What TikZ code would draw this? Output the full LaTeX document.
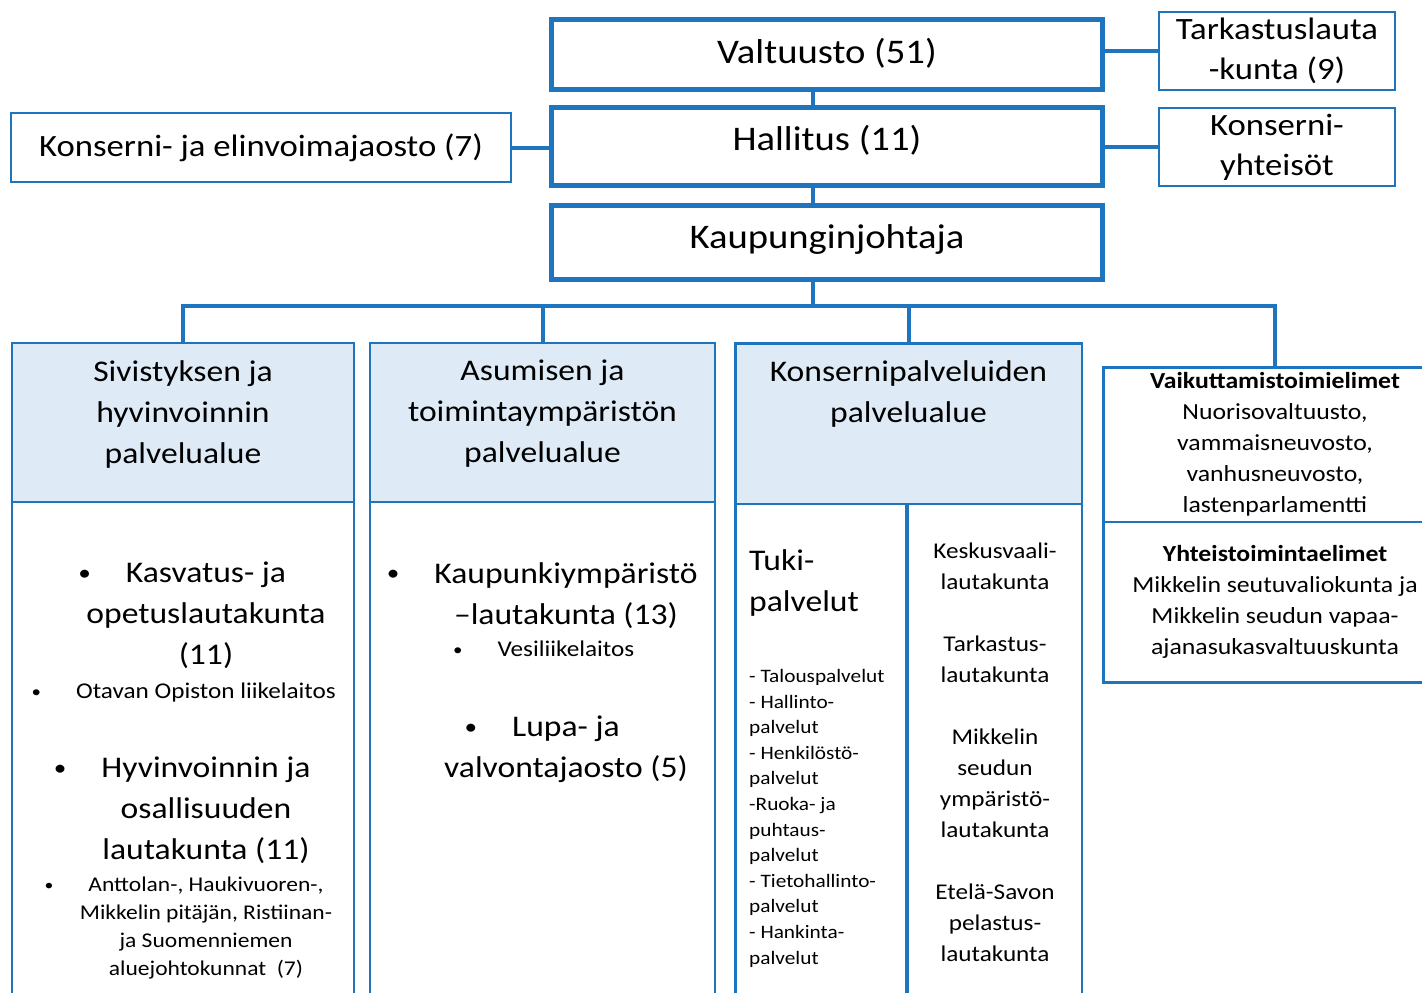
\documentclass[tikz,border=0pt]{standalone}
\usepackage{fontspec}
\usepackage{graphicx}
\setmainfont{Carlito}[FakeStretch=1.12]
\usetikzlibrary{positioning}
\definecolor{orgblue}{RGB}{31,117,189}
\definecolor{areafill}{RGB}{222,235,247}
\newcommand{\bul}[1]{\llap{\raisebox{0.08em}{\scalebox{0.75}{\textbullet}}\hspace{#1}}}

\begin{document}
\begin{tikzpicture}[x=1pt, y=-1pt,
    link/.style={orgblue, line width=4pt},
    topbox/.style={draw=orgblue, line width=5pt, minimum width=551pt, text height=24pt, text depth=12pt, font=\fontsize{34.5}{40}\selectfont},
    sidebox/.style={draw=orgblue, line width=2pt, align=center, minimum height=78pt, font=\fontsize{31}{40}\selectfont},
    areahead/.style={draw=orgblue, line width=2.5pt, outer sep=0pt, fill=areafill, minimum width=342pt, minimum height=159pt},
    areabody/.style={draw=orgblue, line width=2.5pt, outer sep=0pt, minimum width=342pt, minimum height=510pt},
    vaikbox/.style={draw=orgblue, line width=2.5pt, outer sep=0pt, align=center, minimum width=343.5pt, font=\fontsize{23}{31}\selectfont},
    big/.style={align=center, inner sep=0pt, anchor=north, font=\fontsize{30}{41}\selectfont},
    small/.style={align=center, inner sep=0pt, anchor=north, font=\fontsize{21}{28}\selectfont},
    list/.style={align=left, inner sep=0pt, anchor=north west, font=\fontsize{19}{25.6}\selectfont},
    mid/.style={align=center, inner sep=0pt, anchor=north, font=\fontsize{22.5}{31}\selectfont}]
  \useasboundingbox (0,0) rectangle (1422,993);
  \clip (0,0) rectangle (1422,993);

  % top of the organisation
  \node[topbox, minimum height=70pt, text height=26pt, text depth=9pt] (valt) at (827,54.5) {Valtuusto (51)};
  \node[topbox, minimum height=78pt, text depth=16pt] (hall) at (827,146.5) {Hallitus (11)};
  \node[topbox, minimum height=74pt] (kjoht) at (827,242.5) {Kaupunginjohtaja};
  \node[sidebox, minimum width=236pt] (tark) at (1277,51) {Tarkastuslauta\\-kunta (9)};
  \node[sidebox, minimum width=236pt] (kyht) at (1277,147) {Konserni-\\yhteisöt};
  \node[sidebox, minimum width=500pt, minimum height=69pt] (kej) at (261,147.5) {Konserni- ja elinvoimajaosto (7)};

  \draw[link] (tark.west -| valt.east) -- (tark.west);
  \draw[link] (kyht.west -| hall.east) -- (kyht.west);
  \draw[link] (kej.east) -- (kej.east -| hall.west);
  \draw[link] ([xshift=-14pt]valt.south) -- ([xshift=-14pt]hall.north);
  \draw[link] ([xshift=-14pt]hall.south) -- ([xshift=-14pt]kjoht.north);
  \draw[link] ([xshift=-14pt]kjoht.south) -- ++(0,24) coordinate (bus);

  % palvelualueet
  \node[areahead] (sivhead) at (183,422.5) {};
  \node[areabody, below=0pt of sivhead] (sivbody) {};
  \node[areahead, minimum width=345pt] (asuhead) at (542.5,422.5) {};
  \node[areabody, minimum width=345pt, below=0pt of asuhead] (asubody) {};
  \node[areahead, minimum width=346.5pt, minimum height=160.5pt] (konshead) at (908.5,423.5) {};
  \node[areabody, minimum width=171.75pt, anchor=north west] (tukibody) at (konshead.south west) {};
  \node[areabody, minimum width=174.75pt, anchor=north east] (ltkbody) at (konshead.south east) {};
  \draw[orgblue, line width=4pt] (tukibody.north east) -- (tukibody.south east);

  \node[vaikbox, minimum height=154.5pt] (vaik) at (1275,444.5)
    {\textbf{Vaikuttamistoimielimet}\\Nuorisovaltuusto,\\vammaisneuvosto,\\vanhusneuvosto,\\lastenparlamentti};
  \node[vaikbox, minimum height=160.75pt, below=0pt of vaik] (yht)
    {\textbf{Yhteistoimintaelimet}\\Mikkelin seutuvaliokunta ja\\Mikkelin seudun vapaa-\\ajanasukasvaltuuskunta};

  \draw[link] (sivhead.north) |- (bus) -| (vaik.north);
  \draw[link] (asuhead.north) -- (asuhead.north |- bus);
  \draw[link] (konshead.north) -- (konshead.north |- bus);

  % texts of the areas
  \node[big] (sivtxt) at (183,360) {Sivistyksen ja\\hyvinvoinnin\\palvelualue};
  \node[big] (asutxt) at (542.5,360) {Asumisen ja\\toimintaympäristön\\palvelualue};
  \node[big] (konstxt) at (908.5,360) {Konsernipalveluiden\\palvelualue};

  \node[big] (kasv) at (206,562) {\bul{35pt}Kasvatus- ja\\opetuslautakunta\\(11)};
  \node[small, font=\fontsize{22.5}{28}\selectfont] (otava) at (206,683) {\bul{35pt}Otavan Opiston liikelaitos};
  \node[big] (hyvi) at (206,757) {\bul{35pt}Hyvinvoinnin ja\\osallisuuden\\lautakunta (11)};
  \node[small] (antt) at (206,877) {\bul{35pt}Anttolan-, Haukivuoren-,\\Mikkelin pitäjän, Ristiinan-\\ja Suomenniemen\\aluejohtokunnat\ \ (7)};

  \node[big] (kaup) at (566,562) {\bul{35pt}Kaupunkiympäristö\\–lautakunta (13)};
  \node[small, font=\fontsize{22.5}{28}\selectfont] (vesi) at (566,641) {\bul{35pt}Vesiliikelaitos};
  \node[big] (lupa) at (566,716) {\bul{35pt}Lupa- ja\\valvontajaosto (5)};

  \node[big, align=left, anchor=north west] (tuki) at (749,549) {Tuki-\\palvelut};
  \node[list] (tukilist) at (749,669) {- Talouspalvelut\\- Hallinto-\\palvelut\\- Henkilöstö-\\palvelut\\-Ruoka- ja\\puhtaus-\\palvelut\\- Tietohallinto-\\palvelut\\- Hankinta-\\palvelut};
  \node[mid] (ltk) at (995,543) {Keskusvaali-\\lautakunta\\[31pt]Tarkastus-\\lautakunta\\[31pt]Mikkelin\\seudun\\ympäristö-\\lautakunta\\[31pt]Etelä-Savon\\pelastus-\\lautakunta};
\end{tikzpicture}
\end{document}
